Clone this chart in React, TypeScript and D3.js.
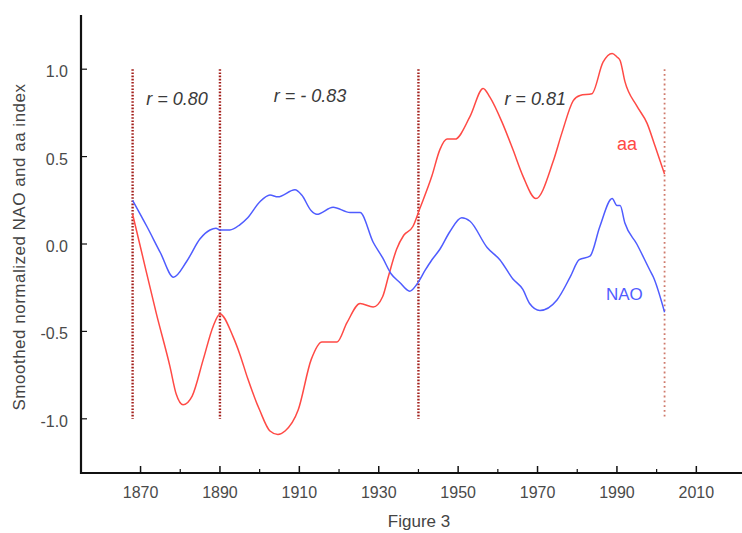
import React, { useEffect, useRef } from 'react'
import * as d3 from 'd3'

// smoothed aa index
const aaYears = [1868, 1870, 1874, 1877.4, 1879, 1880.7, 1883, 1885.8, 1888.3, 1890, 1893.3, 1895, 1897, 1900, 1902.6, 1904.6, 1906.4, 1909.7, 1913, 1915.7, 1919.5, 1922, 1925.3, 1928.6, 1931, 1932.5, 1934.5, 1936.3, 1938.6, 1940.3, 1943.4, 1945.4, 1947.2, 1949.2, 1953, 1956.3, 1958, 1961, 1963.8, 1966.3, 1969.6, 1973.9, 1976.2, 1979, 1980.7, 1983.7, 1986.5, 1988.8, 1990, 1990.8, 1992, 1995, 1997.6, 1999.6, 2002]
const aaValues = [0.17, -0.02, -0.4, -0.7, -0.86, -0.92, -0.87, -0.66, -0.47, -0.4, -0.53, -0.63, -0.77, -0.95, -1.07, -1.09, -1.07, -0.95, -0.66, -0.56, -0.56, -0.45, -0.34, -0.36, -0.3, -0.18, -0.03, 0.05, 0.1, 0.2, 0.39, 0.54, 0.6, 0.6, 0.73, 0.89, 0.84, 0.7, 0.54, 0.39, 0.26, 0.47, 0.64, 0.82, 0.85, 0.86, 1.04, 1.09, 1.07, 1.05, 0.93, 0.79, 0.69, 0.56, 0.4]

// smoothed NAO index
const naoYears = [1868, 1871.6, 1875, 1878.3, 1881.6, 1885, 1887.5, 1889, 1890, 1892.5, 1895, 1897, 1900, 1902.6, 1904.6, 1908.9, 1910.6, 1913, 1914.4, 1918.5, 1922.8, 1925.3, 1928.6, 1931, 1933.1, 1935.3, 1937.8, 1939.6, 1941.7, 1943.4, 1945.4, 1947.9, 1950.9, 1953, 1957.3, 1960.5, 1963.8, 1966.3, 1968, 1970.6, 1974.9, 1978.2, 1980.5, 1983.2, 1985.7, 1988.8, 1990, 1990.8, 1992, 1995, 1998.3, 1999.2, 2002]
const naoValues = [0.25, 0.1, -0.05, -0.19, -0.1, 0.03, 0.08, 0.09, 0.08, 0.08, 0.11, 0.15, 0.24, 0.28, 0.27, 0.31, 0.28, 0.19, 0.17, 0.21, 0.18, 0.18, 0.01, -0.08, -0.17, -0.22, -0.27, -0.23, -0.15, -0.09, -0.03, 0.07, 0.15, 0.13, -0.02, -0.09, -0.2, -0.26, -0.34, -0.38, -0.32, -0.19, -0.09, -0.07, 0.1, 0.26, 0.22, 0.22, 0.12, 0, -0.15, -0.19, -0.39]

// period boundaries and correlations
const dividerYears = [1868, 1890, 1940, 2002]
const periodLabels = ['r = 0.80', 'r = - 0.83', 'r = 0.81']
const periodLabelYears = [1879.2, 1912.7, 1969.4]

const xMajorTicks = [1870, 1890, 1910, 1930, 1950, 1970, 1990, 2010]
const xMinorTicks = [1880, 1900, 1920, 1940, 1960, 1980, 2000]
const yTicks = [-1.0, -0.5, 0.0, 0.5, 1.0]

const FONT = '"Liberation Sans", Arial, sans-serif'

const Chart: React.FC = () => {
  const svgRef = useRef<SVGSVGElement>(null)

  useEffect(() => {
    if (!svgRef.current) return
    const svg = d3.select(svgRef.current)
    svg.selectAll('*').remove()

    const x = d3.scaleLinear().domain([1855, 2021]).range([81, 740])
    const y = d3.scaleLinear().domain([-1.31, 1.31]).range([473, 15])

    // correlation period dividers
    svg.selectAll('.divider')
      .data(dividerYears)
      .enter()
      .append('line')
      .attr('x1', d => x(d))
      .attr('x2', d => x(d))
      .attr('y1', y(1))
      .attr('y2', y(-1))
      .attr('stroke', (d, i) => i === dividerYears.length - 1 ? '#cf7a6c' : '#a3201c')
      .attr('stroke-width', (d, i) => i === dividerYears.length - 1 ? 1.8 : 2.4)
      .attr('stroke-dasharray', (d, i) => i === dividerYears.length - 1 ? '1.8,3' : '1.6,1.6')

    const line = d3.line<[number, number]>()
      .x(d => x(d[0]))
      .y(d => y(d[1]))
      .curve(d3.curveMonotoneX)

    svg.append('path')
      .datum(aaYears.map((yr, i) => [yr, aaValues[i]] as [number, number]))
      .attr('fill', 'none')
      .attr('stroke', '#ff4a45')
      .attr('stroke-width', 1.5)
      .attr('d', line)

    svg.append('path')
      .datum(naoYears.map((yr, i) => [yr, naoValues[i]] as [number, number]))
      .attr('fill', 'none')
      .attr('stroke', '#4f5cff')
      .attr('stroke-width', 1.5)
      .attr('d', line)

    // axes
    svg.append('line')
      .attr('x1', 81).attr('x2', 81)
      .attr('y1', 15).attr('y2', 474)
      .attr('stroke', '#111').attr('stroke-width', 2.2)
    svg.append('line')
      .attr('x1', 80).attr('x2', 742)
      .attr('y1', 473).attr('y2', 473)
      .attr('stroke', '#111').attr('stroke-width', 2.2)

    svg.selectAll('.ytick')
      .data(yTicks)
      .enter()
      .append('line')
      .attr('x1', 81).attr('x2', 87)
      .attr('y1', d => y(d)).attr('y2', d => y(d))
      .attr('stroke', '#111').attr('stroke-width', 1.2)

    svg.selectAll('.ylabel')
      .data(yTicks)
      .enter()
      .append('text')
      .attr('x', 68)
      .attr('y', d => y(d) + 8)
      .attr('text-anchor', 'end')
      .style('font-family', FONT)
      .style('font-size', '16px')
      .style('fill', '#4a4a4a')
      .text(d => d3.format('.1f')(d).replace('−', '-'))

    svg.selectAll('.xtick')
      .data(xMajorTicks)
      .enter()
      .append('line')
      .attr('x1', d => x(d)).attr('x2', d => x(d))
      .attr('y1', 473).attr('y2', 466)
      .attr('stroke', '#111').attr('stroke-width', 1.5)

    svg.selectAll('.xminor')
      .data(xMinorTicks)
      .enter()
      .append('line')
      .attr('x1', d => x(d)).attr('x2', d => x(d))
      .attr('y1', 473).attr('y2', 469)
      .attr('stroke', '#111').attr('stroke-width', 1.2)

    svg.selectAll('.xlabel')
      .data(xMajorTicks)
      .enter()
      .append('text')
      .attr('x', d => x(d))
      .attr('y', 498)
      .attr('text-anchor', 'middle')
      .style('font-family', FONT)
      .style('font-size', '16px')
      .style('fill', '#4a4a4a')
      .text(d => String(d))

    // correlation labels
    svg.selectAll('.rlabel')
      .data(periodLabels)
      .enter()
      .append('text')
      .attr('x', (d, i) => x(periodLabelYears[i]))
      .attr('y', (d, i) => i === 1 ? 102 : 105)
      .attr('text-anchor', 'middle')
      .style('font-family', FONT)
      .style('font-size', '18px')
      .style('font-style', 'italic')
      .style('fill', '#3a3a3a')
      .text(d => d)

    // series labels
    svg.append('text')
      .attr('x', 617).attr('y', 150)
      .style('font-family', FONT)
      .style('font-size', '18px')
      .style('fill', '#ff4a45')
      .text('aa')

    svg.append('text')
      .attr('x', 606).attr('y', 300)
      .style('font-family', FONT)
      .style('font-size', '17px')
      .style('fill', '#4f5cff')
      .text('NAO')

    svg.append('text')
      .attr('transform', 'translate(25, 247) rotate(-90)')
      .attr('text-anchor', 'middle')
      .style('font-family', FONT)
      .style('font-size', '17px')
      .style('letter-spacing', '0.5px')
      .style('fill', '#444')
      .text('Smoothed normalized NAO and aa index')

    svg.append('text')
      .attr('x', 419).attr('y', 527)
      .attr('text-anchor', 'middle')
      .style('font-family', FONT)
      .style('font-size', '17px')
      .style('fill', '#444')
      .text('Figure 3')
  }, [])

  return (
    <svg
      ref={svgRef}
      width={742}
      height={533}
      style={{ position: 'absolute', left: 0, top: 0, background: '#fff' }}
    />
  )
}

export default function App() {
  return <Chart />
}
